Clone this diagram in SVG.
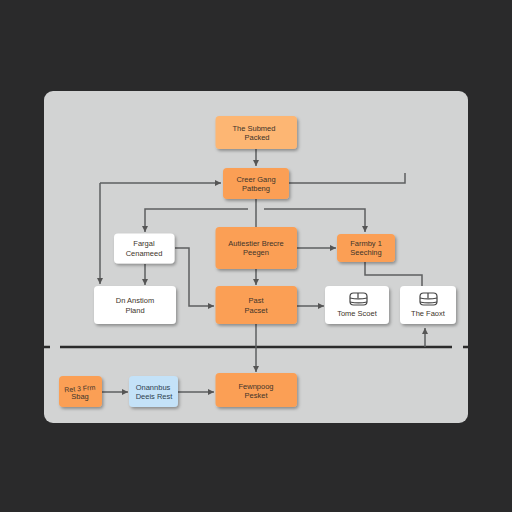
<svg xmlns="http://www.w3.org/2000/svg" width="512" height="512" viewBox="0 0 512 512">
<style>
.o{fill:#fb9f54}.l{fill:#fdb673}.w{fill:#fff}.b{fill:#c4e2f8}
.c{fill:none;stroke:#5d5f60;stroke-width:1.5}
text{font-family:"Liberation Sans",Arial,sans-serif;font-size:7.500px;fill:#40342a;text-anchor:middle}
.i{fill:#fff;stroke:#444;stroke-width:1.2}
</style>
<defs>
<marker id="a" markerWidth="7" markerHeight="7" refX="6" refY="3.5" orient="auto" markerUnits="userSpaceOnUse"><path d="M0 0.5L6 3.5L0 6.5Z" fill="#555"/></marker>
<filter id="s" x="-20%" y="-20%" width="140%" height="150%"><feDropShadow dx="1.5" dy="2" stdDeviation="1.5" flood-color="#000" flood-opacity="0.32"/></filter>
</defs>
<rect width="512" height="512" fill="#2a2a2b"/>
<rect x="44" y="91" width="424" height="332" rx="9" fill="#d2d3d3"/>
<g id="connectors">
<path class="c" d="M44 347H50M60 347H452M463 347H470" style="stroke:#2b2b2b;stroke-width:2.500"/>
<path class="c" d="M256 149V166" marker-end="url(#a)"/>
<path class="c" d="M100 183V284" marker-end="url(#a)"/>
<path class="c" d="M100 183H221" marker-end="url(#a)"/>
<path class="c" d="M289 183H405V173"/>
<path class="c" d="M256 199V227"/>
<path class="c" d="M248 209H145V232" marker-end="url(#a)"/>
<path class="c" d="M264 209H365V232" marker-end="url(#a)"/>
<path class="c" d="M297 248H336" marker-end="url(#a)"/>
<path class="c" d="M145 264V285" marker-end="url(#a)"/>
<path class="c" d="M175 248H189V306H214" marker-end="url(#a)"/>
<path class="c" d="M256 269V285" marker-end="url(#a)"/>
<path class="c" d="M297 306H324" marker-end="url(#a)"/>
<path class="c" d="M365 262V275H422V286"/>
<path class="c" d="M425 347V328" marker-end="url(#a)"/>
<path class="c" d="M256 324V372" marker-end="url(#a)"/>
<path class="c" d="M102 392H128" marker-end="url(#a)"/>
<path class="c" d="M178 392H214" marker-end="url(#a)"/>
</g>
<g id="n1"><rect class="l" x="215.500" y="116" width="81.500" height="33" rx="4" filter="url(#s)"/><text x="254" y="131">The Submed</text><text x="257" y="140">Packed</text></g>
<g id="n2"><rect class="o" x="223" y="168" width="66" height="31" rx="4" filter="url(#s)"/><text x="256" y="182">Creer Gang</text><text x="256" y="191">Patbeng</text></g>
<g id="n3"><rect class="o" x="215.500" y="227" width="81.500" height="42" rx="4" filter="url(#s)"/><text x="256" y="246">Autiestier Brecre</text><text x="256" y="255">Peegen</text></g>
<g id="n4"><rect class="w" x="114" y="233.500" width="60.500" height="30" rx="4" filter="url(#s)"/><text x="144" y="246">Fargal</text><text x="144" y="256">Cenameed</text></g>
<g id="n5"><rect class="o" x="337" y="234" width="58" height="28" rx="4" filter="url(#s)"/><text x="366" y="246">Farmby 1</text><text x="366" y="255">Seeching</text></g>
<g id="n6"><rect class="w" x="94" y="286" width="82" height="38" rx="4" filter="url(#s)"/><text x="135" y="303">Dn Anstiom</text><text x="135" y="313">Pland</text></g>
<g id="n7"><rect class="o" x="215.500" y="286" width="81.500" height="38" rx="4" filter="url(#s)"/><text x="256" y="303">Past</text><text x="256" y="313">Pacset</text></g>
<g id="n8"><rect class="w" x="325" y="286" width="64" height="38" rx="4" filter="url(#s)"/>
<rect class="i" x="350" y="293" width="17" height="12" rx="3.500"/><path class="i" d="M350 298C355 299 362 299 367 298M358 293V298M350 302C355 303 362 303 367 302" style="fill:none"/>
<text x="357" y="316">Tome Scoet</text></g>
<g id="n9"><rect class="w" x="400" y="286" width="56" height="38" rx="4" filter="url(#s)"/>
<rect class="i" x="420" y="293" width="17" height="12" rx="3.500"/><path class="i" d="M420 298C425 299 432 299 437 298M428 293V298M420 302C425 303 432 303 437 302" style="fill:none"/>
<text x="428" y="316">The Faoxt</text></g>
<g id="n10"><rect class="o" x="59" y="376" width="43" height="31" rx="4" filter="url(#s)"/><text x="80" y="391" transform="rotate(-5 80 391)" style="font-size:7px">Ret 3 Frm</text><text x="80" y="399">Sbag</text></g>
<g id="n11"><rect class="b" x="129" y="376" width="49" height="31" rx="4" filter="url(#s)"/><text x="153" y="390" style="fill:#2e3f50">Onannbus</text><text x="154" y="399" style="fill:#2e3f50">Deeis Rest</text></g>
<g id="n12"><rect class="o" x="215.500" y="373" width="81.500" height="34" rx="4" filter="url(#s)"/><text x="256" y="389">Fewnpoog</text><text x="256" y="398">Pesket</text></g>
</svg>
